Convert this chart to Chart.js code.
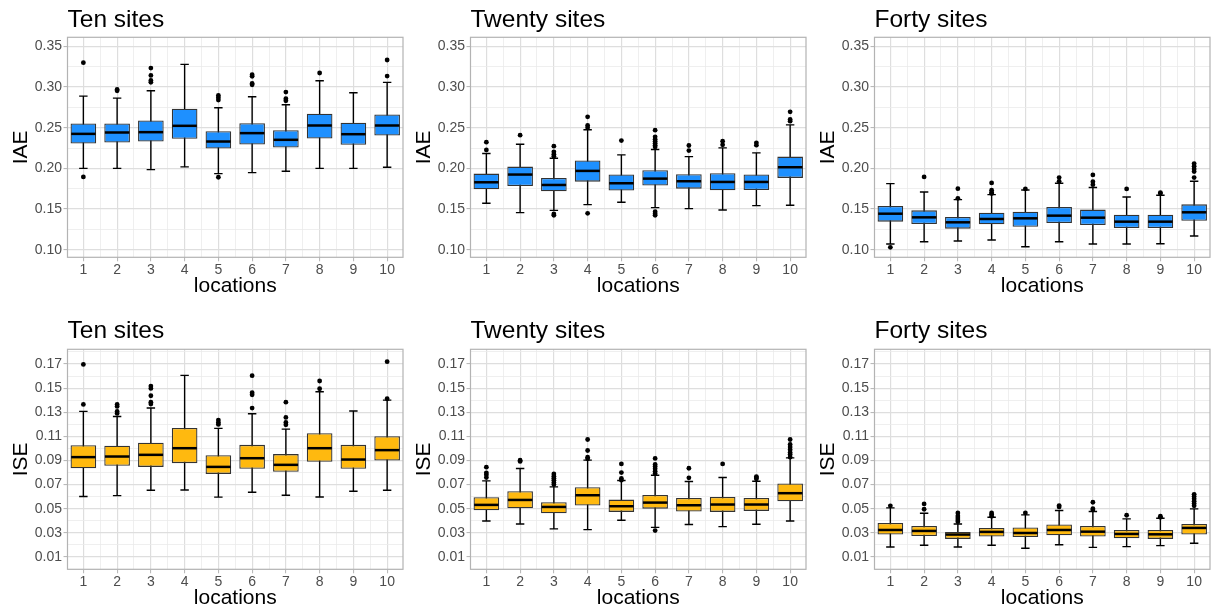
<!DOCTYPE html>
<html>
<head>
<meta charset="utf-8">
<title>IAE / ISE by location</title>
<script src="https://cdn.jsdelivr.net/npm/chart.js@4.4.0/dist/chart.umd.min.js"></script>
<style>
  body { margin: 0; background: #fff; width: 1214px; height: 607px; overflow: hidden; position: relative; }
  canvas { position: absolute; }
</style>
</head>
<body>
<script>
// x positions and axis breaks
const locations = [1, 2, 3, 4, 5, 6, 7, 8, 9, 10];
const iaeTicks = [0.10, 0.15, 0.20, 0.25, 0.30, 0.35];
const iseTicks = [0.01, 0.03, 0.05, 0.07, 0.09, 0.11, 0.13, 0.15, 0.17];

// box stats per location: [lower whisker, q1, median, q3, upper whisker]
const tenIAE = [
  [0.2000, 0.2305, 0.2424, 0.2552, 0.2888],
  [0.2000, 0.2318, 0.2441, 0.2552, 0.2864],
  [0.1985, 0.2330, 0.2445, 0.2589, 0.2954],
  [0.2018, 0.2363, 0.2523, 0.2732, 0.3278],
  [0.1936, 0.2244, 0.2330, 0.2457, 0.2745],
  [0.1948, 0.2293, 0.2433, 0.2556, 0.2880],
  [0.1965, 0.2256, 0.2351, 0.2470, 0.2782],
  [0.2000, 0.2367, 0.2527, 0.2671, 0.3077],
  [0.2000, 0.2289, 0.2420, 0.2560, 0.2929],
  [0.2014, 0.2404, 0.2527, 0.2663, 0.3057]
];
const tenIAEOut = [
  [0.3299, 0.1895], [0.2970, 0.2954], [0.3233, 0.3143, 0.3081, 0.3057], [],
  [0.2897, 0.2868, 0.2839, 0.1891], [0.3151, 0.3131, 0.3044, 0.3028],
  [0.2938, 0.2856, 0.2831], [0.3172], [], [0.3332, 0.3135]
];

const twentyIAE = [
  [0.1571, 0.1743, 0.1829, 0.1936, 0.2182],
  [0.1456, 0.1784, 0.1924, 0.2022, 0.2297],
  [0.1484, 0.1718, 0.1796, 0.1883, 0.2125],
  [0.1554, 0.1837, 0.1969, 0.2096, 0.2474],
  [0.1583, 0.1727, 0.1817, 0.1924, 0.2166],
  [0.1517, 0.1788, 0.1874, 0.1977, 0.2232],
  [0.1505, 0.1751, 0.1842, 0.1928, 0.2145],
  [0.1489, 0.1731, 0.1833, 0.1940, 0.2252],
  [0.1542, 0.1735, 0.1833, 0.1924, 0.2190],
  [0.1546, 0.1883, 0.2014, 0.2145, 0.2535]
];
const twentyIAEOut = [
  [0.2322, 0.2227], [0.2408], [0.2273, 0.2203, 0.2174, 0.2149, 0.1439, 0.1423],
  [0.2634, 0.2527, 0.2498, 0.1447], [0.2342],
  [0.2470, 0.2388, 0.2359, 0.2334, 0.2310, 0.2285, 0.2264, 0.1468, 0.1443, 0.1423],
  [0.2281, 0.2219], [0.2334, 0.2289], [0.2314, 0.2285], [0.2695, 0.2601, 0.2580]
];

const fortyIAE = [
  [0.1070, 0.1345, 0.1443, 0.1538, 0.1813],
  [0.1099, 0.1316, 0.1398, 0.1484, 0.1710],
  [0.1107, 0.1259, 0.1337, 0.1402, 0.1616],
  [0.1119, 0.1312, 0.1378, 0.1456, 0.1677],
  [0.1037, 0.1283, 0.1386, 0.1468, 0.1735],
  [0.1099, 0.1328, 0.1419, 0.1525, 0.1817],
  [0.1070, 0.1304, 0.1394, 0.1493, 0.1764],
  [0.1070, 0.1267, 0.1345, 0.1431, 0.1649],
  [0.1074, 0.1267, 0.1345, 0.1431, 0.1669],
  [0.1168, 0.1357, 0.1460, 0.1558, 0.1841]
];
const fortyIAEOut = [
  [0.1029], [0.1895], [0.1751, 0.1632], [0.1821, 0.1731, 0.1702, 0.1690], [0.1747],
  [0.1887, 0.1841], [0.1920, 0.1837, 0.1800], [0.1747], [0.1702, 0.1690],
  [0.2059, 0.2026, 0.1993, 0.1961, 0.1887]
];

const tenISE = [
  [0.0601, 0.0836, 0.0928, 0.1027, 0.1307],
  [0.0609, 0.0856, 0.0933, 0.1022, 0.1265],
  [0.0654, 0.0847, 0.0947, 0.1047, 0.1335],
  [0.0656, 0.0878, 0.1002, 0.1169, 0.1606],
  [0.0596, 0.0789, 0.0847, 0.0944, 0.1166],
  [0.0637, 0.0831, 0.0919, 0.1030, 0.1288],
  [0.0612, 0.0806, 0.0864, 0.0953, 0.1160],
  [0.0598, 0.0889, 0.1002, 0.1127, 0.1470],
  [0.0645, 0.0831, 0.0908, 0.1030, 0.1310],
  [0.0654, 0.0900, 0.0986, 0.1102, 0.1401]
];
const tenISEOut = [
  [0.1697, 0.1365], [0.1365, 0.1348, 0.1307, 0.1290], [0.1517, 0.1498, 0.1437, 0.1384, 0.1368], [],
  [0.1235, 0.1216, 0.1199], [0.1603, 0.1462, 0.1445, 0.1335], [0.1384, 0.1257, 0.1216, 0.1196],
  [0.1559, 0.1495], [], [0.1719, 0.1412]
];

const twentyISE = [
  [0.0399, 0.0488, 0.0532, 0.0596, 0.0731],
  [0.0374, 0.0504, 0.0573, 0.0645, 0.0834],
  [0.0333, 0.0463, 0.0515, 0.0554, 0.0681],
  [0.0327, 0.0526, 0.0612, 0.0679, 0.0903],
  [0.0405, 0.0474, 0.0521, 0.0576, 0.0734],
  [0.0346, 0.0501, 0.0551, 0.0615, 0.0778],
  [0.0369, 0.0477, 0.0529, 0.0590, 0.0726],
  [0.0352, 0.0474, 0.0535, 0.0598, 0.0759],
  [0.0371, 0.0482, 0.0535, 0.0590, 0.0728],
  [0.0399, 0.0562, 0.0629, 0.0709, 0.0922]
];
const twentyISEOut = [
  [0.0845, 0.0798, 0.0781, 0.0759], [0.0903, 0.0892],
  [0.0789, 0.0770, 0.0753, 0.0737, 0.0717, 0.0701], [0.1074, 0.0983, 0.0928, 0.0914],
  [0.0872, 0.0800, 0.0751, 0.0737], [0.0917, 0.0867, 0.0850, 0.0831, 0.0811, 0.0792, 0.0319],
  [0.0836, 0.0756], [0.0872], [0.0767, 0.0756, 0.0748],
  [0.1074, 0.1033, 0.1011, 0.0989, 0.0966, 0.0950, 0.0928]
];

const fortyISE = [
  [0.0183, 0.0286, 0.0324, 0.0382, 0.0507],
  [0.0197, 0.0274, 0.0316, 0.0358, 0.0463],
  [0.0183, 0.0250, 0.0286, 0.0308, 0.0374],
  [0.0197, 0.0269, 0.0308, 0.0341, 0.0430],
  [0.0172, 0.0266, 0.0299, 0.0344, 0.0449],
  [0.0202, 0.0280, 0.0324, 0.0369, 0.0485],
  [0.0180, 0.0269, 0.0310, 0.0358, 0.0477],
  [0.0186, 0.0255, 0.0291, 0.0324, 0.0416],
  [0.0194, 0.0250, 0.0288, 0.0324, 0.0421],
  [0.0214, 0.0286, 0.0341, 0.0374, 0.0499]
];
const fortyISEOut = [
  [0.0524], [0.0540, 0.0496], [0.0465, 0.0440, 0.0424, 0.0407, 0.0393],
  [0.0465, 0.0452, 0.0438], [0.0465], [0.0526, 0.0515], [0.0554, 0.0501, 0.0490],
  [0.0446], [0.0438, 0.0429], [0.0620, 0.0601, 0.0582, 0.0562, 0.0543, 0.0524]
];

Chart.defaults.font.family = "'Liberation Sans', Arial, sans-serif";
Chart.defaults.animation = false;

const BLUE = '#1E90FF';
const GOLD = '#FFB90F';
const X_MIN = 0.53, X_MAX = 10.47;
const CAP_WIDTH = 0.25;
const BOX_WIDTH = 0.76;

// majors plus the halfway lines between them, kept inside the axis range
function gridValues(major, lo, hi) {
  const half = (major[1] - major[0]) / 2;
  const out = [];
  for (let k = -1; k <= (major.length - 1) * 2 + 1; k++) {
    const v = Math.round((major[0] + k * half) * 1e5) / 1e5;
    if (v >= lo && v <= hi) out.push(v);
  }
  return out;
}
const isMajor = (v, major) => major.some(m => Math.abs(m - v) < 1e-6);

// whiskers with caps under the boxes, medians on top, panel frame last
const boxParts = {
  id: 'boxParts',
  beforeDatasetsDraw(chart, args, opts) {
    const { ctx, scales: { x, y } } = chart;
    ctx.save();
    ctx.strokeStyle = '#000';
    ctx.lineWidth = 1.4;
    opts.stats.forEach((s, i) => {
      const cx = x.getPixelForValue(locations[i]);
      const half = x.getPixelForValue(locations[i] + CAP_WIDTH / 2) - cx;
      const lo = y.getPixelForValue(s[0]);
      const hi = y.getPixelForValue(s[4]);
      ctx.beginPath();
      ctx.moveTo(cx, lo); ctx.lineTo(cx, hi);
      ctx.moveTo(cx - half, lo); ctx.lineTo(cx + half, lo);
      ctx.moveTo(cx - half, hi); ctx.lineTo(cx + half, hi);
      ctx.stroke();
    });
    ctx.restore();
  },
  afterDatasetsDraw(chart, args, opts) {
    const { ctx, scales: { y } } = chart;
    const meta = chart.getDatasetMeta(1);
    ctx.save();
    ctx.strokeStyle = '#000';
    ctx.lineWidth = 2.5;
    opts.stats.forEach((s, i) => {
      const bar = meta.data[i].getProps(['x', 'width'], true);
      const my = y.getPixelForValue(s[2]);
      ctx.beginPath();
      ctx.moveTo(bar.x - bar.width / 2 + 0.6, my);
      ctx.lineTo(bar.x + bar.width / 2 - 0.6, my);
      ctx.stroke();
    });
    ctx.restore();
  },
  afterDraw(chart) {
    const { ctx, chartArea: a } = chart;
    ctx.save();
    ctx.strokeStyle = '#b3b3b3';
    ctx.lineWidth = 1.2;
    ctx.strokeRect(a.left, a.top, a.right - a.left, a.bottom - a.top);
    ctx.restore();
  }
};

function makePanel(p) {
  const canvas = document.createElement('canvas');
  canvas.width = 407;
  canvas.height = 300;
  canvas.style.left = p.left + 'px';
  canvas.style.top = p.top + 'px';
  document.body.appendChild(canvas);

  const xGrid = gridValues(locations, X_MIN, X_MAX);
  const yGrid = gridValues(p.ticks, p.yMin, p.yMax);

  const outliers = [];
  p.out.forEach((vals, i) => vals.forEach(v => outliers.push({ x: locations[i], y: v })));

  const gridColor = major => c => (c.tick && isMajor(c.tick.value, major)) ? '#dedede' : '#ebebeb';
  const gridWidth = major => c => (c.tick && isMajor(c.tick.value, major)) ? 1.2 : 0.8;
  const tickColor = major => c => (c.tick && isMajor(c.tick.value, major)) ? '#b3b3b3' : 'rgba(0,0,0,0)';

  new Chart(canvas, {
    type: 'bar',
    data: {
      datasets: [
        {
          type: 'scatter',
          data: outliers,
          pointRadius: 2.4,
          pointBackgroundColor: '#000',
          pointBorderWidth: 0
        },
        {
          type: 'bar',
          data: p.box.map((s, i) => ({ x: locations[i], y: [s[1], s[3]] })),
          backgroundColor: p.fill,
          borderColor: '#333333',
          borderWidth: 1.3,
          borderSkipped: false,
          categoryPercentage: 1,
          // the bar ruler measures the half-step grid ticks, so double the share
          barPercentage: BOX_WIDTH * 2
        }
      ]
    },
    options: {
      responsive: false,
      events: [],
      layout: { padding: 0 },
      plugins: {
        legend: { display: false },
        tooltip: { enabled: false },
        title: {
          display: true,
          text: p.title,
          align: 'start',
          fullSize: false,
          color: '#000',
          font: { size: 24.5, weight: 'normal', lineHeight: 1.2 },
          padding: { top: p.titlePadTop, bottom: 37.3 - 29.4 - p.titlePadTop }
        },
        boxParts: { stats: p.box }
      },
      scales: {
        x: {
          type: 'linear',
          min: X_MIN,
          max: X_MAX,
          offset: false,
          bounds: 'data',
          afterBuildTicks: axis => { axis.ticks = xGrid.map(v => ({ value: v })); },
          afterFit: axis => { axis.height = 300 - 257.3; },
          border: { display: false },
          grid: {
            offset: false,
            color: gridColor(locations),
            lineWidth: gridWidth(locations),
            tickColor: tickColor(locations),
            tickWidth: 1,
            tickLength: 4
          },
          ticks: {
            autoSkip: false,
            maxRotation: 0,
            padding: 0,
            color: '#4d4d4d',
            font: { size: 14 },
            callback: v => isMajor(v, locations) ? String(Math.round(v)) : ''
          },
          title: {
            display: true,
            text: 'locations',
            color: '#000',
            font: { size: 21 },
            padding: { top: 0, bottom: 1.4 }
          }
        },
        y: {
          type: 'linear',
          min: p.yMin,
          max: p.yMax,
          bounds: 'data',
          afterBuildTicks: axis => { axis.ticks = yGrid.map(v => ({ value: v })); },
          afterFit: axis => { axis.width = 67.5; },
          border: { display: false },
          grid: {
            color: gridColor(p.ticks),
            lineWidth: gridWidth(p.ticks),
            tickColor: tickColor(p.ticks),
            tickWidth: 1,
            tickLength: 4
          },
          ticks: {
            autoSkip: false,
            padding: 1.5,
            color: '#4d4d4d',
            font: { size: 14 },
            callback: v => isMajor(v, p.ticks) ? v.toFixed(2) : ''
          },
          title: {
            display: true,
            text: p.yLabel,
            color: '#000',
            font: { size: 21 },
            padding: { top: 9.1, bottom: 0 }
          }
        }
      }
    },
    plugins: [boxParts]
  });
}

const colLeft = [0, 403, 807];
const rowTop = [0, 312];

const panels = [
  { title: 'Ten sites', yLabel: 'IAE', box: tenIAE, out: tenIAEOut, fill: BLUE, ticks: iaeTicks, yMin: 0.0907, yMax: 0.3611, left: colLeft[0], top: rowTop[0], titlePadTop: 5.4 },
  { title: 'Twenty sites', yLabel: 'IAE', box: twentyIAE, out: twentyIAEOut, fill: BLUE, ticks: iaeTicks, yMin: 0.0907, yMax: 0.3611, left: colLeft[1], top: rowTop[0], titlePadTop: 5.4 },
  { title: 'Forty sites', yLabel: 'IAE', box: fortyIAE, out: fortyIAEOut, fill: BLUE, ticks: iaeTicks, yMin: 0.0907, yMax: 0.3611, left: colLeft[2], top: rowTop[0], titlePadTop: 5.4 },
  { title: 'Ten sites', yLabel: 'ISE', box: tenISE, out: tenISEOut, fill: GOLD, ticks: iseTicks, yMin: -0.0002, yMax: 0.1822, left: colLeft[0], top: rowTop[1], titlePadTop: 4.1 },
  { title: 'Twenty sites', yLabel: 'ISE', box: twentyISE, out: twentyISEOut, fill: GOLD, ticks: iseTicks, yMin: -0.0002, yMax: 0.1822, left: colLeft[1], top: rowTop[1], titlePadTop: 4.1 },
  { title: 'Forty sites', yLabel: 'ISE', box: fortyISE, out: fortyISEOut, fill: GOLD, ticks: iseTicks, yMin: -0.0002, yMax: 0.1822, left: colLeft[2], top: rowTop[1], titlePadTop: 4.1 }
];

panels.forEach(makePanel);
</script>
</body>
</html>
